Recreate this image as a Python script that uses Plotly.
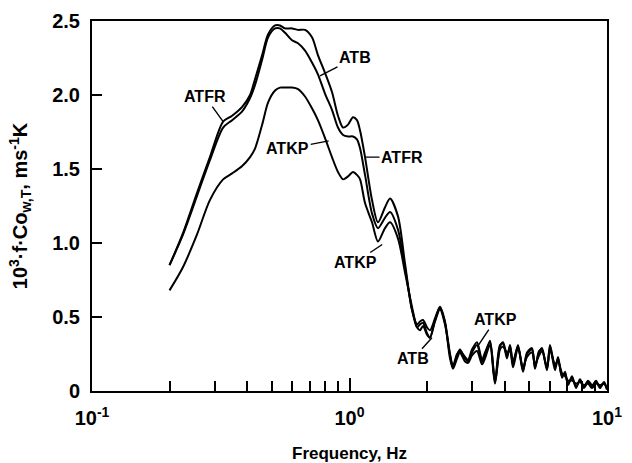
import math
import plotly.graph_objects as go

# ---- data ----
freq_hz = [0.200, 0.226, 0.256, 0.287, 0.323, 0.350, 0.383, 0.411, 0.430, 0.458,
           0.483, 0.514, 0.537, 0.562, 0.598, 0.631, 0.672, 0.715, 0.754, 0.803,
           0.855, 0.902, 0.944, 0.987, 1.032, 1.069, 1.099, 1.149, 1.223, 1.290,
           1.373, 1.437, 1.543, 1.643, 1.748, 1.829, 1.879, 1.930, 2.000, 2.054,
           2.148, 2.246, 2.349, 2.457, 2.523, 2.616, 2.686, 2.809, 2.885, 2.991,
           3.127, 3.271, 3.359, 3.513, 3.673, 3.840, 3.947, 4.089, 4.200, 4.315,
           4.512, 4.718, 4.890, 5.113, 5.253, 5.444, 5.592, 5.848, 6.006, 6.283,
           6.454, 6.689, 6.871, 7.057, 7.314, 7.581, 7.856, 8.141, 8.440, 8.744,
           9.064, 9.393, 9.734, 10.00]

atfr = [0.85, 1.07, 1.34, 1.58, 1.82, 1.86, 1.92, 2.00, 2.11, 2.27,
        2.41, 2.47, 2.47, 2.45, 2.45, 2.44, 2.44, 2.39, 2.27, 2.15,
        2.02, 1.86, 1.78, 1.80, 1.85, 1.83, 1.76, 1.58, 1.29, 1.14,
        1.24, 1.30, 1.18, 0.86, 0.55, 0.45, 0.47, 0.48, 0.43, 0.41,
        0.49, 0.57, 0.47, 0.24, 0.16, 0.24, 0.28, 0.22, 0.20, 0.26,
        0.31, 0.20, 0.24, 0.34, 0.06, 0.30, 0.33, 0.24, 0.30, 0.18,
        0.31, 0.14, 0.25, 0.28, 0.16, 0.26, 0.29, 0.14, 0.31, 0.16,
        0.22, 0.10, 0.12, 0.05, 0.09, 0.03, 0.07, 0.02, 0.06, 0.03,
        0.07, 0.02, 0.06, 0.01]

atb = [0.85, 1.06, 1.32, 1.56, 1.78, 1.83, 1.89, 1.98, 2.07, 2.24,
       2.39, 2.45, 2.45, 2.42, 2.37, 2.35, 2.30, 2.22, 2.14, 2.01,
       1.90, 1.78, 1.73, 1.72, 1.72, 1.70, 1.64, 1.46, 1.20, 1.10,
       1.17, 1.21, 1.09, 0.83, 0.55, 0.43, 0.45, 0.46, 0.39, 0.36,
       0.48, 0.56, 0.46, 0.22, 0.15, 0.22, 0.26, 0.20, 0.19, 0.24,
       0.27, 0.18, 0.22, 0.31, 0.05, 0.28, 0.30, 0.26, 0.27, 0.16,
       0.29, 0.16, 0.23, 0.26, 0.18, 0.24, 0.27, 0.16, 0.28, 0.18,
       0.20, 0.12, 0.10, 0.07, 0.07, 0.05, 0.06, 0.04, 0.05, 0.02,
       0.05, 0.04, 0.05, 0.02]

atkp = [0.68, 0.84, 1.06, 1.29, 1.43, 1.47, 1.52, 1.58, 1.64, 1.80,
        1.95, 2.03, 2.05, 2.05, 2.05, 2.04, 1.99, 1.91, 1.83, 1.71,
        1.58, 1.48, 1.43, 1.45, 1.48, 1.46, 1.43, 1.27, 1.14, 1.01,
        1.10, 1.14, 1.03, 0.80, 0.57, 0.43, 0.41, 0.44, 0.38, 0.36,
        0.47, 0.55, 0.45, 0.25, 0.17, 0.25, 0.27, 0.23, 0.21, 0.28,
        0.33, 0.21, 0.26, 0.33, 0.07, 0.31, 0.32, 0.22, 0.31, 0.20,
        0.30, 0.13, 0.26, 0.29, 0.15, 0.27, 0.28, 0.15, 0.30, 0.14,
        0.23, 0.09, 0.13, 0.04, 0.10, 0.02, 0.08, 0.03, 0.07, 0.04,
        0.06, 0.03, 0.05, 0.01]

x_tick_vals = [0.1, 1, 10]
x_tick_text = ["10<sup>-1</sup>", "10<sup>0</sup>", "10<sup>1</sup>"]
x_minor_vals = [0.2, 0.3, 0.4, 0.5, 0.6, 0.7, 0.8, 0.9, 2, 3, 4, 5, 6, 7, 8, 9]
y_tick_vals = [0, 0.5, 1.0, 1.5, 2.0, 2.5]
y_tick_text = ["0", "0.5", "1.0", "1.5", "2.0", "2.5"]

# label text, point on curve (Hz, value), text offset in px
labels = [
    ("ATFR", 0.323, 1.82, -18, -25),
    ("ATB", 0.768, 2.13, 35, -18),
    ("ATKP", 0.83, 1.69, -41, 8),
    ("ATFR", 1.149, 1.58, 37, 0),
    ("ATKP", 1.34, 0.99, -27, 18),
    ("ATB", 2.09, 0.36, -19, 21),
    ("ATKP", 3.14, 0.30, 18, -27),
]

FONT = "Liberation Sans"

fig = go.Figure()
for name, vals in (("ATFR", atfr), ("ATB", atb), ("ATKP", atkp)):
    fig.add_trace(go.Scatter(
        x=freq_hz, y=vals, mode="lines", name=name,
        line=dict(color="black", width=2, shape="spline", smoothing=0.8),
        showlegend=False, hoverinfo="skip"))

for text, fx, fy, ax, ay in labels:
    fig.add_annotation(
        x=math.log10(fx), y=fy, xref="x", yref="y", text=text,
        showarrow=True, arrowhead=0, arrowwidth=1.4, arrowcolor="black",
        ax=ax, ay=ay, standoff=0,
        font=dict(family=FONT, size=16, color="black", weight="bold"))

fig.update_layout(
    width=632, height=463,
    margin=dict(l=92, r=25, t=21, b=72),
    paper_bgcolor="white", plot_bgcolor="white",
    font=dict(family=FONT, color="black"),
    xaxis=dict(
        type="log", range=[-1, 1], automargin=False,
        tickmode="array", tickvals=x_tick_vals, ticktext=x_tick_text,
        ticks="inside", ticklen=13, tickwidth=1.5, tickcolor="black",
        minor=dict(tickmode="array", tickvals=x_minor_vals, ticks="inside",
                   ticklen=10, tickwidth=1.5, tickcolor="black", showgrid=False),
        showline=True, linecolor="black", linewidth=2, mirror=True,
        showgrid=False, zeroline=False,
        tickfont=dict(family=FONT, size=20, color="black", weight="bold"),
        ticklabelstandoff=8,
        title=dict(text="Frequency, Hz",
                   font=dict(family=FONT, size=17, color="black", weight="bold"),
                   standoff=20),
    ),
    yaxis=dict(
        range=[0, 2.5], automargin=False,
        tickmode="array", tickvals=y_tick_vals, ticktext=y_tick_text,
        ticks="inside", ticklen=10, tickwidth=1.5, tickcolor="black",
        showline=True, linecolor="black", linewidth=2, mirror=True,
        showgrid=False, zeroline=False,
        tickfont=dict(family=FONT, size=20, color="black", weight="bold"),
        ticklabelstandoff=6,
        title=dict(text="10<sup>3</sup>·f·Co<sub>w,T</sub>, ms<sup>-1</sup>K",
                   font=dict(family=FONT, size=20, color="black", weight="bold"),
                   standoff=19),
    ),
)

fig.write_html("out.html", config={"displayModeBar": False},
               post_script="document.body.style.margin='0';")
